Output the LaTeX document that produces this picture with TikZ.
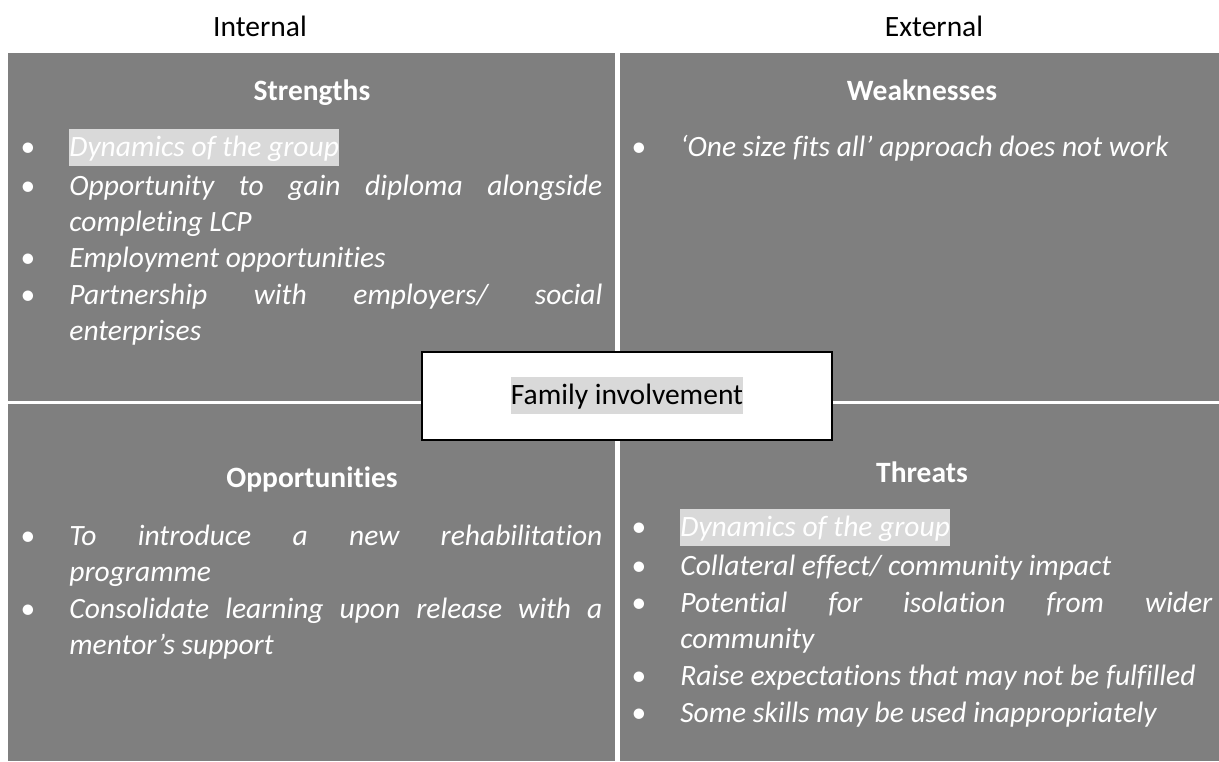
\documentclass[tikz,border=0pt]{standalone}
\usepackage{fontspec}
\setmainfont[Ligatures=CommonOff]{Carlito}
\newlength{\du}
\setlength{\du}{0.5pt}
\definecolor{swotgray}{HTML}{7F7F7F}
\definecolor{swothl}{HTML}{D9D9D9}
\newcommand{\hlbox}[1]{{\setlength{\fboxsep}{0pt}\colorbox{swothl}{\rule[-5pt]{0pt}{18.5pt}#1}}}
\tikzset{
  swotfont/.style={font=\fontsize{14.75}{18.3}\selectfont},
  swottitle/.style={anchor=base, text=white, font=\fontsize{14.75}{18.3}\selectfont\bfseries, inner sep=0pt},
  swotlabel/.style={swotfont, anchor=base, text=black, inner sep=0pt},
  swotdot/.style={swotfont, anchor=base, text=white, inner sep=0pt},
  swotitem/.style={anchor=base west, text=white, text width=533\du, align=justify, font=\fontsize{14.75}{18.3}\selectfont\itshape, inner sep=0pt},
}

\begin{document}
\begin{tikzpicture}
\pgftransformxscale{1.000000}
\pgftransformyscale{-1.000000}
\useasboundingbox (0\du,0\du) rectangle (1219\du,761\du);
% quadrants
\fill[swotgray] (8\du,53\du) rectangle (1219\du,761\du);
\fill[white] (615\du,53\du) rectangle (619.5\du,761\du);
\fill[white] (8\du,400.5\du) rectangle (1219\du,403.5\du);

\node[swotlabel] (internal) at (260\du,36\du) {Internal};
\node[swotlabel] (external) at (934\du,36\du) {External};

% strengths
\node[swottitle] (strengths) at (312\du,100\du) {Strengths};
\node[swotdot] (sd1) at (28\du,156\du) {•};
\node[swotitem] (s1) at (69\du,156\du) {\hlbox{Dynamics of the group}};
\node[swotdot] (sd2) at (28\du,195\du) {•};
\node[swotitem] (s2) at (69\du,195\du) {Opportunity to gain diploma alongside\linebreak completing LCP};
\node[swotdot] (sd3) at (28\du,267\du) {•};
\node[swotitem] (s3) at (69\du,267\du) {Employment opportunities};
\node[swotdot] (sd4) at (28\du,304\du) {•};
\node[swotitem] (s4) at (69\du,304\du) {Partnership with employers/ social\linebreak enterprises};

% weaknesses
\node[swottitle] (weaknesses) at (922\du,100\du) {Weaknesses};
\node[swotdot] (wd1) at (639\du,156\du) {•};
\node[swotitem] (w1) at (680\du,156\du) {‘One size fits all’ approach does not work};

% opportunities
\node[swottitle] (opportunities) at (312\du,487\du) {Opportunities};
\node[swotdot] (od1) at (28\du,545\du) {•};
\node[swotitem] (o1) at (69\du,545\du) {To introduce a new rehabilitation\linebreak programme};
\node[swotdot] (od2) at (28\du,618\du) {•};
\node[swotitem] (o2) at (69\du,618\du) {Consolidate learning upon release with a\linebreak mentor’s support};

% threats
\node[swottitle] (threats) at (922\du,482\du) {Threats};
\node[swotdot] (td1) at (639\du,536\du) {•};
\node[swotitem, text width=532\du] (t1) at (680\du,536\du) {\hlbox{Dynamics of the group}};
\node[swotdot] (td2) at (639\du,575\du) {•};
\node[swotitem, text width=532\du] (t2) at (680\du,575\du) {Collateral effect/ community impact};
\node[swotdot] (td3) at (639\du,612\du) {•};
\node[swotitem, text width=532\du] (t3) at (680\du,612\du) {Potential for isolation from wider\linebreak community};
\node[swotdot] (td4) at (639\du,685\du) {•};
\node[swotitem, text width=532\du] (t4) at (680\du,685\du) {Raise expectations that may not be fulfilled};
\node[swotdot] (td5) at (639\du,722\du) {•};
\node[swotitem, text width=532\du] (t5) at (680\du,722\du) {Some skills may be used inappropriately};

% centre box
\node[draw=black, fill=white, line width=1pt, minimum width=410\du, minimum height=88\du, inner sep=0pt] (family) at (627\du,396\du) {};
\node[swotlabel] (familytext) at (627\du,404\du) {\hlbox{Family involvement}};
\end{tikzpicture}
\end{document}
